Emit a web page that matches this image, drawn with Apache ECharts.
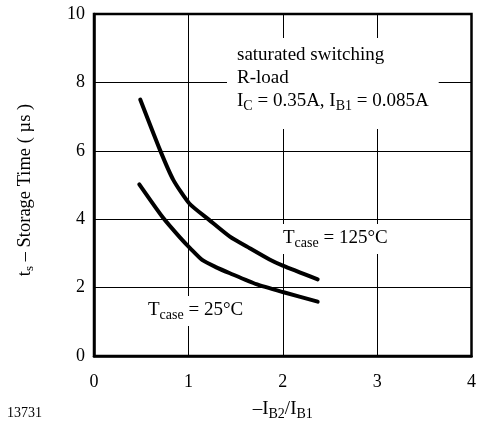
<!DOCTYPE html>
<html>
<head>
<meta charset="utf-8">
<script src="https://cdn.jsdelivr.net/npm/echarts@6/dist/echarts.min.js"></script>
<style>
  html, body { margin: 0; padding: 0; background: #fff; }
  #chart { width: 479px; height: 427px; }
</style>
</head>
<body>
<div id="chart"></div>
<script>
// -IB2/IB1 ratio, storage time in us
const hotX = [0.49, 0.7, 0.84, 1.01, 1.22, 1.44, 1.65, 1.86, 2.0, 2.37]
const hotY = [7.5, 6.02, 5.15, 4.46, 3.98, 3.49, 3.15, 2.82, 2.64, 2.24]
const coldX = [0.48, 0.73, 0.91, 1.03, 1.15, 1.29, 1.44, 1.72, 2.0, 2.37]
const coldY = [5.02, 4.05, 3.47, 3.12, 2.8, 2.6, 2.42, 2.1, 1.87, 1.59]

const FONT = '"Liberation Serif", "Times New Roman", serif'

function pairs (xs, ys) {
  return xs.map((x, i) => [x, ys[i]])
}

const rich = {
  n: { fontSize: 19, lineHeight: 23, fontFamily: FONT, color: '#000' },
  s: { fontSize: 14, lineHeight: 13, verticalAlign: 'bottom', fontFamily: FONT, color: '#000' }
}

const chart = echarts.init(document.getElementById('chart'))
chart.setOption({
  animation: false,
  backgroundColor: '#fff',
  grid: {
    left: 94,
    right: 6,
    top: 14,
    bottom: 71,
    show: true,
    borderColor: '#000',
    borderWidth: 2.5
  },
  xAxis: {
    type: 'value',
    min: 0,
    max: 4,
    interval: 1,
    name: '{n|–I}{s|B2}{n|/I}{s|B1}',
    nameLocation: 'middle',
    nameGap: 42,
    nameTextStyle: { rich: rich },
    axisLine: { lineStyle: { color: '#000', width: 2.5 } },
    axisTick: { show: false },
    axisLabel: { margin: 17, fontSize: 18, fontFamily: FONT, color: '#000' },
    splitLine: { lineStyle: { color: '#000', width: 1 } }
  },
  yAxis: {
    type: 'value',
    min: 0,
    max: 10,
    interval: 2,
    name: '{m|t}{t|s}{m| – Storage Time ( µs )}',
    nameLocation: 'middle',
    nameRotate: 90,
    nameGap: 58,
    nameTextStyle: {
      padding: [0, 10, 0, 0],
      rich: {
        m: { fontSize: 18.5, lineHeight: 22, fontFamily: FONT, color: '#000' },
        t: { fontSize: 13, lineHeight: 12, verticalAlign: 'bottom', fontFamily: FONT, color: '#000' }
      }
    },
    axisLine: { show: true, lineStyle: { color: '#000', width: 2.5 } },
    axisTick: { show: false },
    axisLabel: { margin: 9, fontSize: 18, fontFamily: FONT, color: '#000' },
    splitLine: { lineStyle: { color: '#000', width: 1 } }
  },
  series: [
    {
      name: 'Tcase = 125°C',
      type: 'line',
      smooth: 0.2,
      symbol: 'none',
      data: pairs(hotX, hotY),
      lineStyle: { color: '#000', width: 4, cap: 'round', join: 'round' }
    },
    {
      name: 'Tcase = 25°C',
      type: 'line',
      smooth: 0.2,
      symbol: 'none',
      data: pairs(coldX, coldY),
      lineStyle: { color: '#000', width: 4, cap: 'round', join: 'round' }
    }
  ],
  graphic: [
    {
      type: 'text',
      left: 227,
      top: 38,
      z: 10,
      style: {
        text: '{n|saturated switching}\n{n|R-load}\n{n|I}{s|C}{n| = 0.35A, I}{s|B1}{n| = 0.085A}',
        rich: rich,
        backgroundColor: '#fff',
        padding: [6, 10, 16, 10]
      }
    },
    {
      type: 'text',
      left: 278,
      top: 224,
      z: 10,
      style: {
        text: '{n|T}{s|case}{n| = 125°C}',
        rich: rich,
        backgroundColor: '#fff',
        padding: [3, 5, 4, 5]
      }
    },
    {
      type: 'text',
      left: 143,
      top: 296,
      z: 10,
      style: {
        text: '{n|T}{s|case}{n| = 25°C}',
        rich: rich,
        backgroundColor: '#fff',
        padding: [3, 5, 4, 5]
      }
    },
    {
      type: 'text',
      left: 7,
      top: 406,
      style: {
        text: '13731',
        fontSize: 14,
        fontFamily: FONT,
        fill: '#000'
      }
    }
  ]
})
</script>
</body>
</html>
